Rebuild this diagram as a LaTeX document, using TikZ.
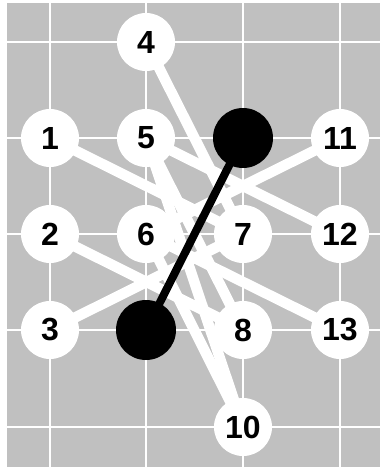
\documentclass[tikz,border=0pt]{standalone}
\usepackage{fontspec}
\setmainfont{Liberation Sans}
\definecolor{bgray}{HTML}{C0C0C0}
\pgfdeclarelayer{bg}
\pgfdeclarelayer{edges}
\pgfsetlayers{bg,edges,main}
\begin{document}
\begin{tikzpicture}[x=1pt,y=-1pt,
  nd/.style={circle,fill=white,minimum size=58pt,inner sep=0pt,font=\fontsize{32}{32}\selectfont\bfseries},
  bk/.style={circle,fill=black,minimum size=60pt,inner sep=0pt},
  wedge/.style={white,line width=10.5pt},
  cutline/.style={black,line width=8pt},
  gridline/.style={white,line width=2pt}]
\useasboundingbox (0,0) rectangle (380,467);
\begin{pgfonlayer}{bg}
\fill[bgray] (7,3) rectangle (380,467);
\foreach \x in {50,146,243,340} \draw[gridline] (\x,3) -- (\x,467);
\foreach \y in {42,138,234,330,427} \draw[gridline] (7,\y) -- (380,\y);
\end{pgfonlayer}
\node[nd] (n4) at (146,42) {4};
\node[nd] (n1) at (50,138) {1};
\node[nd] (n5) at (146,138) {5};
\node[bk] (b1) at (243,138) {};
\node[nd] (n11) at (340,138) {11};
\node[nd] (n2) at (50,234) {2};
\node[nd] (n6) at (146,234) {6};
\node[nd] (n7) at (243,234) {7};
\node[nd] (n12) at (340,234) {12};
\node[nd] (n3) at (50,330) {3};
\node[bk] (b2) at (146,330) {};
\node[nd] (n8) at (243,330) {8};
\node[nd] (n13) at (340,330) {13};
\node[nd] (n10) at (243,427) {10};
\begin{pgfonlayer}{edges}
\draw[wedge] (n1.center) -- (n7.center);
\draw[wedge] (n2.center) -- (n8.center);
\draw[wedge] (n3.center) -- (n7.center);
\draw[wedge] (n4.center) -- (n7.center);
\draw[wedge] (n5.center) -- (n12.center);
\draw[wedge] (n5.center) -- (n8.center);
\draw[wedge] (n5.center) -- (n10.center);
\draw[wedge] (n6.center) -- (n11.center);
\draw[wedge] (n6.center) -- (n13.center);
\draw[wedge] (n6.center) -- (n10.center);
\draw[cutline] (b1.center) -- (b2.center);
\end{pgfonlayer}
\end{tikzpicture}
\end{document}
